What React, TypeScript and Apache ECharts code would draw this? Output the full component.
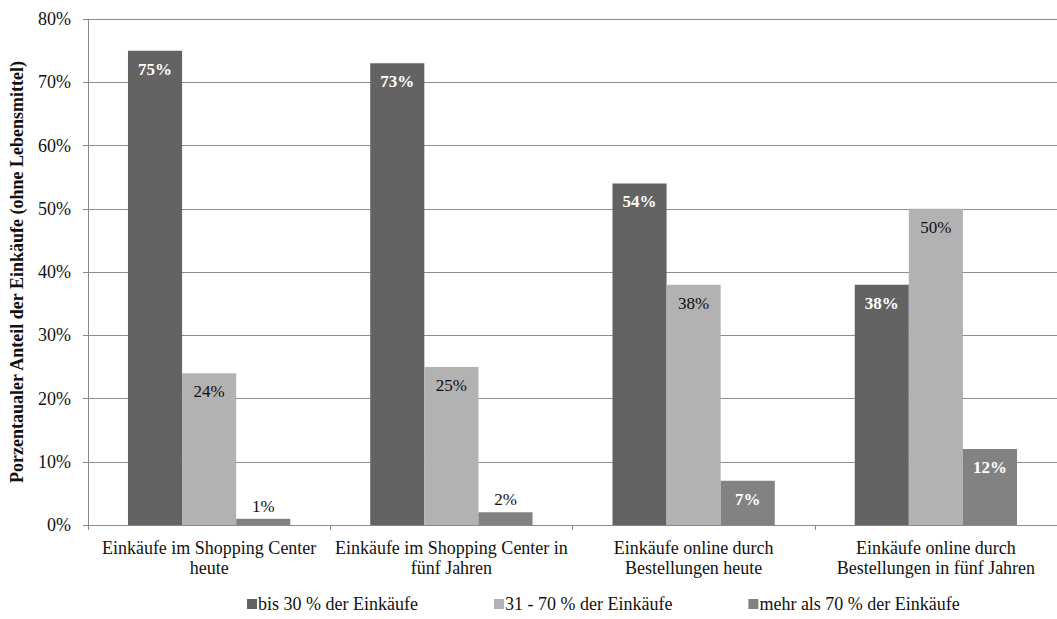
import React, { useEffect, useRef } from "react";
import * as echarts from "echarts";

const categories = [
  "Einkäufe im Shopping Center\nheute",
  "Einkäufe im Shopping Center in\nfünf Jahren",
  "Einkäufe online durch\nBestellungen heute",
  "Einkäufe online durch\nBestellungen in fünf Jahren",
];
const seriesNames = [
  "bis 30 % der Einkäufe",
  "31 - 70 % der Einkäufe",
  "mehr als 70 % der Einkäufe",
];
const upTo30 = [75, 73, 54, 38];
const from31to70 = [24, 25, 38, 50];
const over70 = [1, 2, 7, 12];

const colors = ["#636363", "#b2b2b2", "#828282"];
const FONT = "Liberation Serif";

const whiteInside = {
  show: true,
  position: "insideTop",
  distance: 10,
  color: "#ffffff",
  fontWeight: "bold",
  fontSize: 17,
  fontFamily: FONT,
  formatter: "{c}%",
};
const darkInside = {
  show: true,
  position: "insideTop",
  distance: 10,
  color: "#111111",
  fontSize: 17,
  fontFamily: FONT,
  formatter: "{c}%",
};
const darkAbove = {
  show: true,
  position: "top",
  distance: 4,
  color: "#111111",
  fontSize: 17,
  fontFamily: FONT,
  formatter: "{c}%",
};

export default function App() {
  const ref = useRef<HTMLDivElement>(null);

  useEffect(() => {
    if (!ref.current) return;
    const chart = echarts.init(ref.current, undefined, { renderer: "svg" });

    const barBase = {
      type: "bar",
      barGap: "0%",
      barCategoryGap: "33%",
    };

    chart.setOption({
      animation: false,
      color: colors,
      textStyle: { fontFamily: FONT },
      grid: { left: 87, right: -10, top: 19, bottom: 94, containLabel: false },
      legend: {
        data: seriesNames,
        left: 242,
        bottom: 1,
        itemWidth: 10,
        itemHeight: 10,
        itemGap: 76,
        icon: "rect",
        textStyle: { fontFamily: FONT, fontSize: 18, color: "#111", padding: [0, 0, 0, -4] },
      },
      xAxis: {
        type: "category",
        data: categories,
        axisLine: { show: true, lineStyle: { color: "#8a8a8a", width: 1 } },
        axisTick: { show: true, length: 5, lineStyle: { color: "#8a8a8a" } },
        axisLabel: {
          interval: 0,
          margin: 13,
          fontSize: 18,
          lineHeight: 20,
          color: "#111",
          fontFamily: FONT,
        },
      },
      yAxis: {
        type: "value",
        min: 0,
        max: 80,
        interval: 10,
        name: "Porzentaualer Anteil der Einkäufe (ohne Lebensmittel)",
        nameLocation: "middle",
        nameGap: 62,
        nameTextStyle: {
          fontFamily: FONT,
          fontSize: 18,
          fontWeight: "bold",
          color: "#111",
        },
        axisLine: { show: true, lineStyle: { color: "#8a8a8a", width: 1 } },
        axisTick: { show: true, length: 5, lineStyle: { color: "#8a8a8a" } },
        axisLabel: {
          formatter: "{value}%",
          fontSize: 18,
          margin: 17,
          color: "#111",
          fontFamily: FONT,
        },
        splitLine: { show: true, lineStyle: { color: "#8c8c8c", width: 1 } },
      },
      series: [
        {
          ...barBase,
          name: seriesNames[0],
          data: upTo30.map((v) => ({ value: v, label: whiteInside })),
        },
        {
          ...barBase,
          name: seriesNames[1],
          data: from31to70.map((v) => ({ value: v, label: darkInside })),
        },
        {
          ...barBase,
          name: seriesNames[2],
          data: over70.map((v) => ({ value: v, label: v < 5 ? darkAbove : whiteInside })),
        },
      ],
    });

    return () => chart.dispose();
  }, []);

  return (
    <div
      ref={ref}
      style={{ position: "absolute", left: 0, top: 0, width: 1057, height: 619, background: "#fff" }}
    />
  );
}
